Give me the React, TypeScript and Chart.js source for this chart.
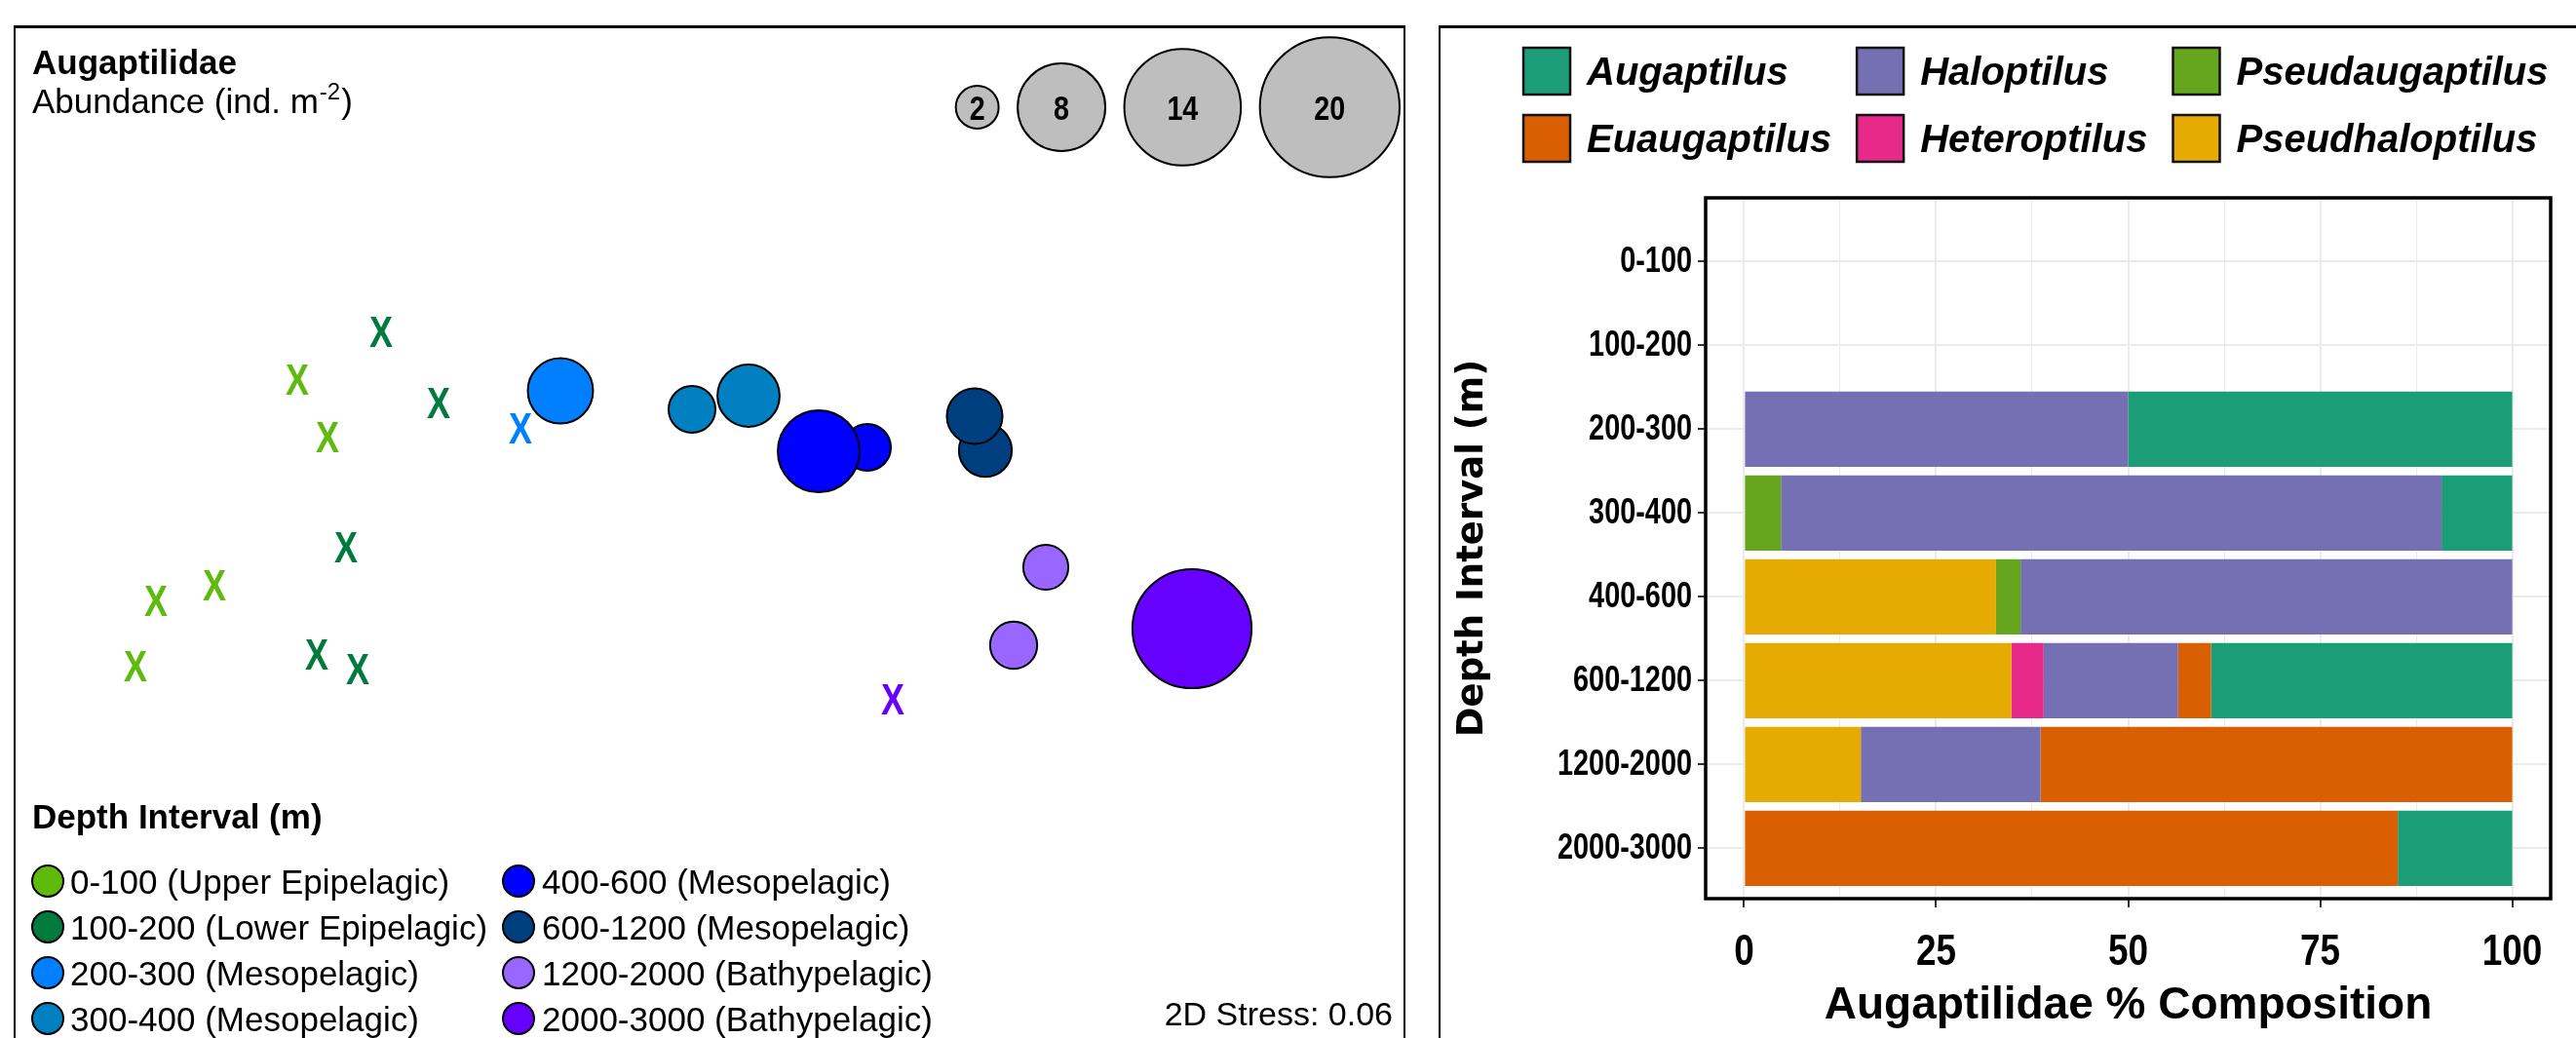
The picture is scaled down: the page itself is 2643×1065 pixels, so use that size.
import React, { useEffect, useRef } from "react";
import { Chart, registerables } from "chart.js";

Chart.register(...registerables);

const SANS = '"Liberation Sans", Arial, Helvetica, sans-serif';
const WIDE_SANS = '"DejaVu Sans", Verdana, sans-serif';

// ---- NMDS ordination (left panel) ----
const DEPTH_LABELS = [
  "0-100 (Upper Epipelagic)",
  "100-200 (Lower Epipelagic)",
  "200-300 (Mesopelagic)",
  "300-400 (Mesopelagic)",
  "400-600 (Mesopelagic)",
  "600-1200 (Mesopelagic)",
  "1200-2000 (Bathypelagic)",
  "2000-3000 (Bathypelagic)",
];
const DEPTH_COLORS = [
  "#5EBB0E",
  "#007A3D",
  "#0080FF",
  "#0080C0",
  "#0000FF",
  "#003F7F",
  "#9966FF",
  "#6600FF",
];

// one entry per sample: depth interval index, NMDS coordinates, abundance (ind. m^-2)
const SAMPLE_DEPTH = [0, 0, 0, 0, 0, 1, 1, 1, 1, 1, 2, 2, 3, 3, 4, 4, 5, 5, 6, 6, 7, 7];
const NMDS1 = [
  -0.822, -0.76, -0.992, -1.112, -1.154,
  -0.65, -0.532, -0.722, -0.782, -0.698,
  -0.364, -0.282,
  -0.012, 0.104,
  0.348, 0.248,
  0.59, 0.568,
  0.714, 0.648,
  0.4, 1.014,
];
const NMDS2 = [
  0.178, 0.06, -0.244, -0.276, -0.41,
  0.276, 0.13, -0.166, -0.386, -0.416,
  0.078, 0.154,
  0.116, 0.144,
  0.038, 0.03,
  0.032, 0.102,
  -0.208, -0.368,
  -0.478, -0.334,
];
const ABUNDANCE = [
  0, 0, 0, 0, 0,
  0, 0, 0, 0, 0,
  0, 4.5,
  2.37, 4.1,
  2.37, 7.0,
  3.0, 3.3,
  2.2, 2.4,
  0, 14.6,
];
const SIZE_BREAKS = [2, 8, 14, 20];
const STRESS = "0.06";

// ---- % composition (right panel) ----
const DEPTH_INTERVALS = ["0-100", "100-200", "200-300", "300-400", "400-600", "600-1200", "1200-2000", "2000-3000"];
const PSEUDHALOPTILUS = [0, 0, 0, 0, 32.8, 34.8, 15.2, 0];
const PSEUDAUGAPTILUS = [0, 0, 0, 4.8, 3.2, 0, 0, 0];
const HETEROPTILUS = [0, 0, 0, 0, 0, 4.2, 0, 0];
const HALOPTILUS = [0, 0, 50.0, 86.0, 64.0, 17.5, 23.4, 0];
const EUAUGAPTILUS = [0, 0, 0, 0, 0, 4.3, 61.4, 85.1];
const AUGAPTILUS = [0, 0, 50.0, 9.2, 0, 39.2, 0, 14.9];
const X_TICKS = [0, 25, 50, 75, 100];
const X_GRID = [0, 12.5, 25, 37.5, 50, 62.5, 75, 87.5, 100];

const GENERA = ["Pseudhaloptilus", "Pseudaugaptilus", "Heteroptilus", "Haloptilus", "Euaugaptilus", "Augaptilus"];
const GENUS_COLORS = ["#E6AB02", "#66A61E", "#E7298A", "#7570B3", "#D95F02", "#1B9E77"];
const GENUS_SERIES = [PSEUDHALOPTILUS, PSEUDAUGAPTILUS, HETEROPTILUS, HALOPTILUS, EUAUGAPTILUS, AUGAPTILUS];

// area-proportional bubble size (outer radius in px)
const bubbleRadius = (v: number) => 16.25 * Math.sqrt(v);

// bold text squeezed horizontally around (x, y)
function narrowText(ctx: CanvasRenderingContext2D, text: string, x: number, y: number, size: number, squeeze = 0.82) {
  ctx.save();
  ctx.font = `bold ${size}px ${SANS}`;
  ctx.translate(x, y);
  ctx.scale(squeeze, 1);
  ctx.fillText(text, 0, 0);
  ctx.restore();
}

function makeCross(color: string): HTMLCanvasElement {
  const c = document.createElement("canvas");
  c.width = 48;
  c.height = 48;
  const g = c.getContext("2d")!;
  g.fillStyle = color;
  g.textAlign = "center";
  g.textBaseline = "alphabetic";
  narrowText(g, "X", 24, 24 + (0.716 * 45) / 2, 45, 0.8);
  return c;
}

const nmdsAnnotations = {
  id: "nmdsAnnotations",
  afterDraw(chart: any) {
    const ctx = chart.ctx as CanvasRenderingContext2D;
    ctx.save();
    ctx.fillStyle = "#000";
    ctx.textAlign = "left";
    ctx.textBaseline = "alphabetic";

    // title block
    ctx.font = `bold 35px ${SANS}`;
    ctx.fillText("Augaptilidae", 17, 48);
    ctx.font = `35px ${SANS}`;
    const base = "Abundance (ind. m";
    ctx.fillText(base, 17, 88);
    const w1 = ctx.measureText(base).width;
    ctx.font = `24px ${SANS}`;
    ctx.fillText("-2", 17 + w1 + 1, 74);
    const w2 = ctx.measureText("-2").width;
    ctx.font = `35px ${SANS}`;
    ctx.fillText(")", 17 + w1 + w2 + 2, 88);

    // size key
    const cy = 82;
    let right = 1421;
    const centers: number[] = [];
    for (let i = SIZE_BREAKS.length - 1; i >= 0; i--) {
      const r = bubbleRadius(SIZE_BREAKS[i]);
      centers[i] = right - r;
      right = right - 2 * r - 17.5;
    }
    SIZE_BREAKS.forEach((v, i) => {
      const r = bubbleRadius(v) - 1;
      ctx.beginPath();
      ctx.arc(centers[i], cy, r, 0, Math.PI * 2);
      ctx.fillStyle = "#BEBEBE";
      ctx.fill();
      ctx.lineWidth = 2;
      ctx.strokeStyle = "#000";
      ctx.stroke();
      ctx.fillStyle = "#000";
      ctx.textAlign = "center";
      narrowText(ctx, String(v), centers[i], cy + 0.358 * 35, 35);
    });

    // depth key
    ctx.textAlign = "left";
    ctx.fillStyle = "#000";
    ctx.font = `bold 35px ${SANS}`;
    ctx.fillText("Depth Interval (m)", 17, 822);
    const rows = [876, 923, 970, 1017];
    const colCircle = [33, 516];
    const colText = [56, 540];
    DEPTH_LABELS.forEach((label, i) => {
      const col = Math.floor(i / 4);
      const y = rows[i % 4];
      ctx.beginPath();
      ctx.arc(colCircle[col], y, 16, 0, Math.PI * 2);
      ctx.fillStyle = DEPTH_COLORS[i];
      ctx.fill();
      ctx.lineWidth = 2;
      ctx.strokeStyle = "#000";
      ctx.stroke();
      ctx.fillStyle = "#000";
      ctx.font = `35px ${SANS}`;
      ctx.fillText(label, colText[col], y + 12.5);
    });

    ctx.textAlign = "right";
    ctx.font = `34px ${SANS}`;
    ctx.fillText(`2D Stress: ${STRESS}`, 1413, 1024);
    ctx.restore();
  },
};

const panelBox = {
  id: "panelBox",
  afterDatasetsDraw(chart: any) {
    const { ctx, chartArea } = chart;
    ctx.save();
    ctx.strokeStyle = "#000";
    ctx.lineWidth = 3.5;
    ctx.strokeRect(chartArea.left, chartArea.top, chartArea.right - chartArea.left, chartArea.bottom - chartArea.top);
    ctx.restore();
  },
};

// narrow bold tick labels placed from the chart's own scales
const narrowTickLabels = {
  id: "narrowTickLabels",
  afterDraw(chart: any) {
    const ctx = chart.ctx as CanvasRenderingContext2D;
    const xs = chart.scales.x;
    const ys = chart.scales.y;
    ctx.save();
    ctx.fillStyle = "#000";
    ctx.textBaseline = "middle";
    ctx.textAlign = "right";
    ys.ticks.forEach((t: any) => {
      const label = DEPTH_INTERVALS[t.value];
      if (label) narrowText(ctx, label, ys.right - 14, ys.getPixelForValue(t.value), 37, 0.78);
    });
    ctx.textAlign = "center";
    xs.ticks.forEach((t: any) => {
      if (X_TICKS.includes(t.value)) narrowText(ctx, String(t.value), xs.getPixelForValue(t.value), xs.top + 56, 45);
    });
    ctx.restore();
  },
};

const genusLegend = {
  id: "genusLegend",
  afterDraw(chart: any) {
    const ctx = chart.ctx as CanvasRenderingContext2D;
    const items = chart.data.datasets
      .map((d: any) => ({ label: d.label as string, color: d.backgroundColor as string }))
      .sort((a: any, b: any) => a.label.localeCompare(b.label));
    ctx.save();
    ctx.font = `italic bold 40px ${SANS}`;
    ctx.textAlign = "left";
    ctx.textBaseline = "alphabetic";
    const size = 48;
    const rowTop = [20, 89];
    let x = 84;
    for (let col = 0; col * 2 < items.length; col++) {
      const colItems = items.slice(col * 2, col * 2 + 2);
      let maxW = 0;
      colItems.forEach((it: any, r: number) => {
        const y = rowTop[r];
        ctx.fillStyle = it.color;
        ctx.fillRect(x, y, size, size);
        ctx.lineWidth = 2.5;
        ctx.strokeStyle = "#111";
        ctx.strokeRect(x, y, size, size);
        ctx.fillStyle = "#000";
        ctx.fillText(it.label, x + size + 17, y + size / 2 + 14.3);
        maxW = Math.max(maxW, ctx.measureText(it.label).width);
      });
      x = x + size + 17 + maxW + 26;
    }
    ctx.restore();
  },
};

export default function App() {
  const leftRef = useRef<HTMLCanvasElement>(null);
  const rightRef = useRef<HTMLCanvasElement>(null);

  useEffect(() => {
    const crosses = DEPTH_COLORS.map(makeCross);

    const scatterSets = DEPTH_LABELS.map((label, d) => {
      const pts: any[] = [];
      SAMPLE_DEPTH.forEach((sd, i) => {
        if (sd === d) pts.push({ x: NMDS1[i], y: NMDS2[i], v: ABUNDANCE[i] });
      });
      return {
        label,
        data: pts,
        pointStyle: (c: any) => (c.raw && c.raw.v > 0 ? "circle" : crosses[d]),
        pointRadius: (c: any) => (c.raw && c.raw.v > 0 ? bubbleRadius(c.raw.v) - 1 : 14),
        pointBorderWidth: (c: any) => (c.raw && c.raw.v > 0 ? 2 : 0),
        pointBackgroundColor: DEPTH_COLORS[d],
        pointBorderColor: "#000",
        showLine: false,
      };
    });

    const left = new Chart(leftRef.current!, {
      type: "scatter",
      data: { datasets: scatterSets as any },
      options: {
        responsive: false,
        animation: false,
        events: [],
        layout: { padding: 0, autoPadding: false },
        plugins: { legend: { display: false }, tooltip: { enabled: false } },
        scales: {
          x: { type: "linear", display: false, min: -1.4, max: 1.446 },
          y: { type: "linear", display: false, min: -1.174, max: 0.9 },
        },
      } as any,
      plugins: [nmdsAnnotations],
    });

    const barSets = GENERA.map((g, i) => ({
      label: g,
      data: GENUS_SERIES[i].map((v, j) => ({ x: v, y: j })),
      backgroundColor: GENUS_COLORS[i],
      borderWidth: 0,
      barPercentage: 0.9,
      categoryPercentage: 1,
    }));

    const isMajor = (v: number) => X_TICKS.includes(v);

    const right = new Chart(rightRef.current!, {
      type: "bar",
      data: { datasets: barSets as any },
      options: {
        indexAxis: "y",
        responsive: false,
        animation: false,
        events: [],
        layout: { padding: { top: 174, right: 26, left: 0, bottom: 0 }, autoPadding: false },
        plugins: { legend: { display: false }, tooltip: { enabled: false } },
        scales: {
          x: {
            type: "linear",
            min: -5,
            max: 105,
            stacked: true,
            offset: false,
            afterBuildTicks: (s: any) => {
              s.ticks = X_GRID.map((v) => ({ value: v }));
            },
            afterFit: (s: any) => {
              s.height = 143;
            },
            grid: {
              offset: false,
              color: "#EBEBEB",
              lineWidth: (c: any) => (c.tick && isMajor(c.tick.value) ? 2 : 1),
              tickLength: 9,
              tickWidth: 2,
              tickColor: (c: any) => (c.tick && isMajor(c.tick.value) ? "#333333" : "rgba(0,0,0,0)"),
            },
            border: { display: false },
            ticks: { display: false, autoSkip: false },
            title: {
              display: true,
              text: "Augaptilidae % Composition",
              color: "#000",
              font: { family: SANS, size: 46, weight: "bold" },
              padding: { top: 0, bottom: 5 },
            },
          },
          y: {
            type: "linear",
            min: -0.76,
            max: 7.6,
            reverse: true,
            stacked: true,
            offset: false,
            afterBuildTicks: (s: any) => {
              s.ticks = DEPTH_INTERVALS.map((_, i) => ({ value: i }));
            },
            afterFit: (s: any) => {
              s.width = 271;
            },
            grid: {
              offset: false,
              color: "#EBEBEB",
              lineWidth: 2,
              tickLength: 8,
              tickWidth: 2,
              tickColor: "#333333",
            },
            border: { display: false },
            ticks: { display: false, autoSkip: false },
            title: {
              display: true,
              text: "Depth Interval (m)",
              color: "#000",
              font: { family: WIDE_SANS, size: 37, weight: "bold" },
              padding: { top: 10, bottom: 0 },
            },
          },
        },
      } as any,
      plugins: [panelBox, narrowTickLabels, genusLegend],
    });

    return () => {
      left.destroy();
      right.destroy();
    };
  }, []);

  return (
    <div
      style={{
        position: "fixed",
        left: 0,
        top: 0,
        width: 2643,
        height: 1065,
        background: "#fff",
        overflow: "hidden",
      }}
    >
      <div
        style={{
          position: "absolute",
          left: 14,
          top: 26,
          width: 1428,
          height: 1100,
          boxSizing: "border-box",
          borderTop: "3px solid #000",
          borderLeft: "2px solid #000",
          borderRight: "2px solid #000",
        }}
      />
      <div
        style={{
          position: "absolute",
          left: 1476,
          top: 26,
          width: 1200,
          height: 1100,
          boxSizing: "border-box",
          borderTop: "3px solid #000",
          borderLeft: "2px solid #000",
        }}
      />
      <canvas ref={leftRef} width={1423} height={1037} style={{ position: "absolute", left: 16, top: 28 }} />
      <canvas ref={rightRef} width={1164} height={1036} style={{ position: "absolute", left: 1479, top: 29 }} />
    </div>
  );
}
